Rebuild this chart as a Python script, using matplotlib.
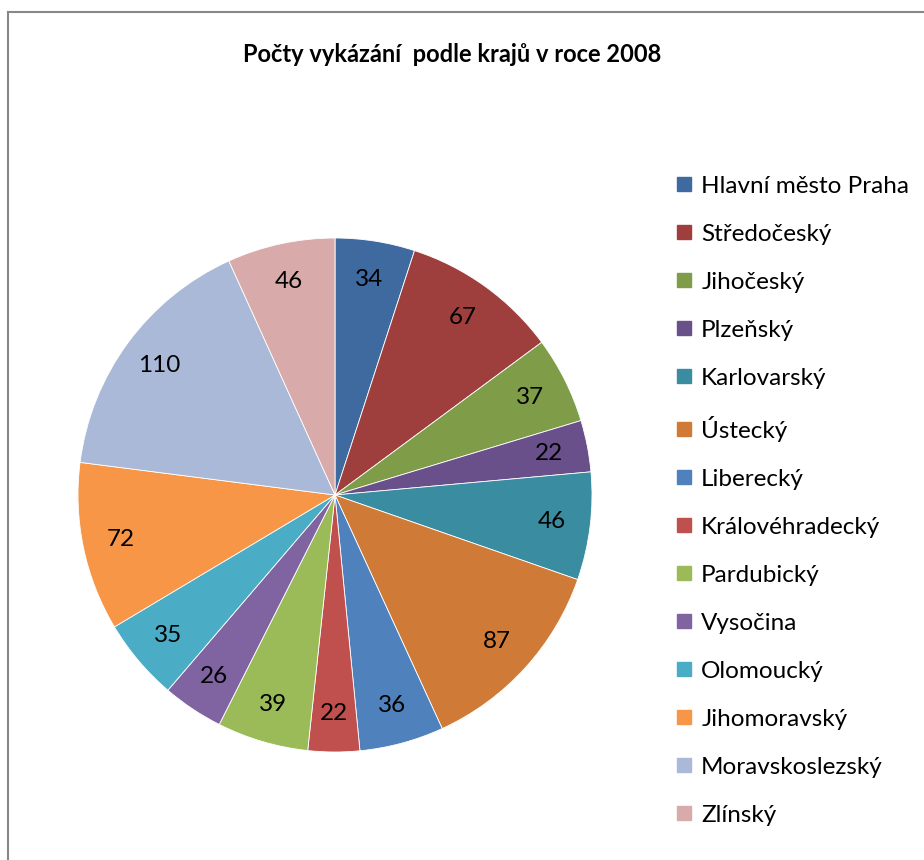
import matplotlib.pyplot as plt
from matplotlib.lines import Line2D

plt.rcParams['font.family'] = ['Lato', 'DejaVu Sans']

kraje = ['Hlavní město Praha', 'Středočeský', 'Jihočeský', 'Plzeňský',
         'Karlovarský', 'Ústecký', 'Liberecký', 'Královéhradecký',
         'Pardubický', 'Vysočina', 'Olomoucký', 'Jihomoravský',
         'Moravskoslezský', 'Zlínský']
pocty = [34, 67, 37, 22, 46, 87, 36, 22, 39, 26, 35, 72, 110, 46]
barvy = ['#3E6A9F', '#9F3F3D', '#7F9C48', '#69508A', '#3A8CA0', '#CF7B37',
         '#4F81BD', '#C0504D', '#9BBB59', '#8064A2', '#4BACC6', '#F79646',
         '#AAB9D7', '#D9AAAA']

W, H = 924, 860
fig = plt.figure(figsize=(W / 100, H / 100), dpi=100)

# pie area (pixels)
cx, cy, r = 335, 495, 257
ax = fig.add_axes([(cx - r) / W, (H - cy - r) / H, 2 * r / W, 2 * r / H])
wedges, texts = ax.pie(pocty, colors=barvy, startangle=90, counterclock=False,
                       labels=[str(v) for v in pocty], labeldistance=0.85,
                       wedgeprops=dict(edgecolor='white', linewidth=0.6),
                       textprops=dict(fontsize=17.5, color='black'))
for t in texts:
    t.set_ha('center')
    t.set_va('center')
ax.set_xlim(-1, 1)
ax.set_ylim(-1, 1)
ax.set_aspect('equal')
ax.axis('off')

fig.text(452 / W, 1 - 55 / H, 'Počty vykázání  podle krajů v roce 2008',
         ha='center', va='center', fontsize=17, fontweight='bold')

handles = [Line2D([], [], marker='s', linestyle='none', markersize=9.5,
                  markerfacecolor=c, markeredgecolor=c) for c in barvy]
fig.legend(handles, kraje, loc='upper left',
           bbox_to_anchor=(666 / W, 1 - 166 / H), frameon=False,
           fontsize=17.5, handlelength=0.7, handletextpad=0.35,
           labelspacing=1.11, borderaxespad=0)

# chart border (only left and top edges are visible)
fig.add_artist(Line2D([8 / W, 8 / W], [0, 1 - 12 / H], color='#888888', lw=1.5))
fig.add_artist(Line2D([8 / W, 1], [1 - 12 / H, 1 - 12 / H], color='#888888', lw=1.5))

fig.savefig('out.png', dpi=100)
